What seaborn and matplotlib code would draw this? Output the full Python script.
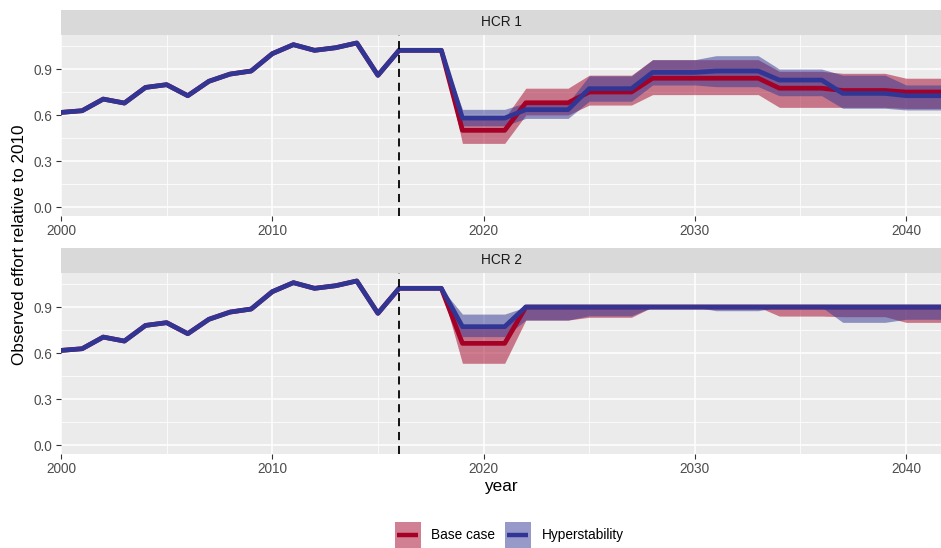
import numpy as np
import pandas as pd
import matplotlib
matplotlib.use("Agg")
import matplotlib.pyplot as plt
from matplotlib.patches import Rectangle
from matplotlib.lines import Line2D
import seaborn as sns

sns.set_theme(style="darkgrid")
plt.rcParams["font.family"] = ["Liberation Sans", "DejaVu Sans"]

# ---- data ---------------------------------------------------------------
hist_years = list(range(2000, 2019))
hist_effort = [0.617, 0.628, 0.704, 0.678, 0.780, 0.798, 0.726, 0.820, 0.867,
               0.887, 1.000, 1.059, 1.022, 1.039, 1.070, 0.859, 1.022, 1.022,
               1.022]

proj_years = list(range(2019, 2043))

# HCR 1 -- Base case
hcr1_base_med = [0.50, 0.50, 0.50, 0.68, 0.68, 0.68, 0.75, 0.75, 0.75,
                 0.84, 0.84, 0.84, 0.84, 0.84, 0.84, 0.775, 0.775, 0.775,
                 0.76, 0.76, 0.76, 0.75, 0.75, 0.75]
hcr1_base_lo = [0.415, 0.415, 0.415, 0.60, 0.60, 0.60, 0.665, 0.665, 0.665,
                0.733, 0.733, 0.733, 0.733, 0.733, 0.733, 0.65, 0.65, 0.65,
                0.65, 0.65, 0.65, 0.643, 0.643, 0.643]
hcr1_base_hi = [0.58, 0.58, 0.58, 0.775, 0.775, 0.775, 0.86, 0.86, 0.86,
                0.961, 0.961, 0.961, 0.961, 0.961, 0.961, 0.885, 0.885, 0.885,
                0.872, 0.872, 0.872, 0.84, 0.84, 0.84]
# HCR 1 -- Hyperstability
hcr1_hyp_med = [0.58, 0.58, 0.58, 0.635, 0.635, 0.635, 0.772, 0.772, 0.772,
                0.878, 0.878, 0.878, 0.887, 0.887, 0.887, 0.828, 0.828, 0.828,
                0.741, 0.741, 0.741, 0.726, 0.726, 0.726]
hcr1_hyp_lo = [0.53, 0.53, 0.53, 0.578, 0.578, 0.578, 0.69, 0.69, 0.69,
               0.796, 0.796, 0.796, 0.785, 0.785, 0.785, 0.726, 0.726, 0.726,
               0.644, 0.644, 0.644, 0.633, 0.633, 0.633]
hcr1_hyp_hi = [0.637, 0.637, 0.637, 0.68, 0.68, 0.68, 0.855, 0.855, 0.855,
               0.961, 0.961, 0.961, 0.987, 0.987, 0.987, 0.90, 0.90, 0.90,
               0.86, 0.86, 0.86, 0.796, 0.796, 0.796]

# HCR 2 -- Base case
hcr2_base_med = [0.663, 0.663, 0.663, 0.90, 0.90, 0.90, 0.90, 0.90, 0.90,
                 0.90, 0.90, 0.90, 0.90, 0.90, 0.90, 0.90, 0.90, 0.90,
                 0.90, 0.90, 0.90, 0.90, 0.90, 0.90]
hcr2_base_lo = [0.533, 0.533, 0.533, 0.815, 0.815, 0.815, 0.833, 0.833, 0.833,
                0.90, 0.90, 0.90, 0.90, 0.90, 0.90, 0.841, 0.841, 0.841,
                0.837, 0.837, 0.837, 0.80, 0.80, 0.80]
hcr2_base_hi = [0.775, 0.775, 0.775, 0.90, 0.90, 0.90, 0.90, 0.90, 0.90,
                0.90, 0.90, 0.90, 0.90, 0.90, 0.90, 0.90, 0.90, 0.90,
                0.90, 0.90, 0.90, 0.90, 0.90, 0.90]
# HCR 2 -- Hyperstability
hcr2_hyp_med = [0.772, 0.772, 0.772, 0.90, 0.90, 0.90, 0.90, 0.90, 0.90,
                0.90, 0.90, 0.90, 0.90, 0.90, 0.90, 0.90, 0.90, 0.90,
                0.90, 0.90, 0.90, 0.90, 0.90, 0.90]
hcr2_hyp_lo = [0.707, 0.707, 0.707, 0.815, 0.815, 0.815, 0.843, 0.843, 0.843,
               0.90, 0.90, 0.90, 0.876, 0.876, 0.876, 0.90, 0.90, 0.90,
               0.80, 0.80, 0.80, 0.82, 0.82, 0.82]
hcr2_hyp_hi = [0.854, 0.854, 0.854, 0.90, 0.90, 0.90, 0.90, 0.90, 0.90,
               0.90, 0.90, 0.90, 0.90, 0.90, 0.90, 0.90, 0.90, 0.90,
               0.90, 0.90, 0.90, 0.90, 0.90, 0.90]

scenarios = ["Base case", "Hyperstability"]
palette = {"Base case": "#A50026", "Hyperstability": "#313695"}
hcr_labels = ["HCR 1", "HCR 2"]
proj = {
    ("HCR 1", "Base case"): (hcr1_base_med, hcr1_base_lo, hcr1_base_hi),
    ("HCR 1", "Hyperstability"): (hcr1_hyp_med, hcr1_hyp_lo, hcr1_hyp_hi),
    ("HCR 2", "Base case"): (hcr2_base_med, hcr2_base_lo, hcr2_base_hi),
    ("HCR 2", "Hyperstability"): (hcr2_hyp_med, hcr2_hyp_lo, hcr2_hyp_hi),
}
projection_start = 2016

# long table for the median lines, ribbons anchored at the last observed year
rows = []
for (hcr, sc), (med, lo, hi) in proj.items():
    for y, v in zip(hist_years, hist_effort):
        rows.append(dict(hcr=hcr, scenario=sc, year=y, effort=v,
                         lo=np.nan, hi=np.nan))
    rows[-1]["lo"] = hist_effort[-1]
    rows[-1]["hi"] = hist_effort[-1]
    for y, m, l, h in zip(proj_years, med, lo, hi):
        rows.append(dict(hcr=hcr, scenario=sc, year=y, effort=m, lo=l, hi=h))
df = pd.DataFrame(rows)

# ---- layout (ggplot2 grey theme look) ------------------------------------
W, H = 941, 548
fig = plt.figure(figsize=(W / 100, H / 100), dpi=100)
fig.patch.set_facecolor("white")


def fx(px):
    return px / W


def fy(py):
    return 1 - py / H


panels = [(35, 216, 10), (273, 454, 248)]  # panel top, panel bottom, strip top
x0, x1 = 61, 941
xlim = (2000, 2041.65)
ylim = (-0.0587, 1.122)

for hcr, (ptop, pbot, stop) in zip(hcr_labels, panels):
    ax = fig.add_axes([fx(x0), fy(pbot), fx(x1 - x0), (pbot - ptop) / H])
    ax.set_facecolor("#EBEBEB")
    ax.set_axisbelow(True)
    sub = df[df.hcr == hcr]

    for sc in scenarios:
        s = sub[(sub.scenario == sc) & sub.lo.notna()]
        ax.fill_between(s.year, s.lo, s.hi, color=palette[sc], alpha=0.5,
                        linewidth=0, zorder=1)

    sns.lineplot(data=sub, x="year", y="effort", hue="scenario",
                 hue_order=scenarios, palette=palette, estimator=None,
                 errorbar=None, linewidth=3.4, legend=False, ax=ax,
                 solid_joinstyle="round", zorder=3)

    ax.axvline(projection_start, color="black", lw=1.3,
               linestyle=(0, (4.5, 3.2)), zorder=4)

    ax.set_xlim(*xlim)
    ax.set_ylim(*ylim)
    ax.set_xticks([2000, 2010, 2020, 2030, 2040])
    ax.set_xticks([2005, 2015, 2025, 2035], minor=True)
    ax.set_yticks([0.0, 0.3, 0.6, 0.9])
    ax.set_yticklabels(["0.0", "0.3", "0.6", "0.9"])
    ax.set_yticks([0.15, 0.45, 0.75, 1.05], minor=True)
    ax.grid(which="major", color="white", lw=1.1)
    ax.grid(which="minor", color="white", lw=0.55)
    ax.tick_params(which="major", length=3.5, width=0.8, color="#333333",
                   labelsize=9.8, labelcolor="#4D4D4D", pad=2.5,
                   bottom=True, left=True)
    ax.tick_params(which="minor", length=0)
    ax.set_xlabel("")
    ax.set_ylabel("")
    for sp in ax.spines.values():
        sp.set_visible(False)

    # facet strip
    sax = fig.add_axes([fx(x0), fy(ptop), fx(x1 - x0), (ptop - stop) / H])
    sax.set_facecolor("#D9D9D9")
    sax.set_xticks([])
    sax.set_yticks([])
    for sp in sax.spines.values():
        sp.set_visible(False)
    sax.text(0.5, 0.5, hcr, ha="center", va="center", fontsize=9.8,
             color="#1A1A1A", transform=sax.transAxes)

fig.text(fx(501), fy(486), "year", ha="center", va="center", fontsize=12.3,
         color="black")
fig.text(fx(20), fy(245), "Observed effort relative to 2010", ha="center",
         va="center", rotation=90, fontsize=12.3, color="black")

# legend at the bottom
lax = fig.add_axes([0, 0, 1, 1], facecolor="none")
lax.set_xlim(0, W)
lax.set_ylim(H, 0)
lax.axis("off")
keys = [(395, 431, "Base case"), (505, 542, "Hyperstability")]
for (kx, tx, lab) in keys:
    lax.add_patch(Rectangle((kx, 522), 26, 25.5, facecolor=palette[lab],
                            alpha=0.5, linewidth=0))
    lax.add_line(Line2D([kx + 2.5, kx + 23.5], [534.75, 534.75],
                        color=palette[lab], lw=3.2, solid_capstyle="butt"))
    lax.text(tx, 535, lab, ha="left", va="center", fontsize=9.8,
             color="black")

fig.savefig("out.png", dpi=100)
